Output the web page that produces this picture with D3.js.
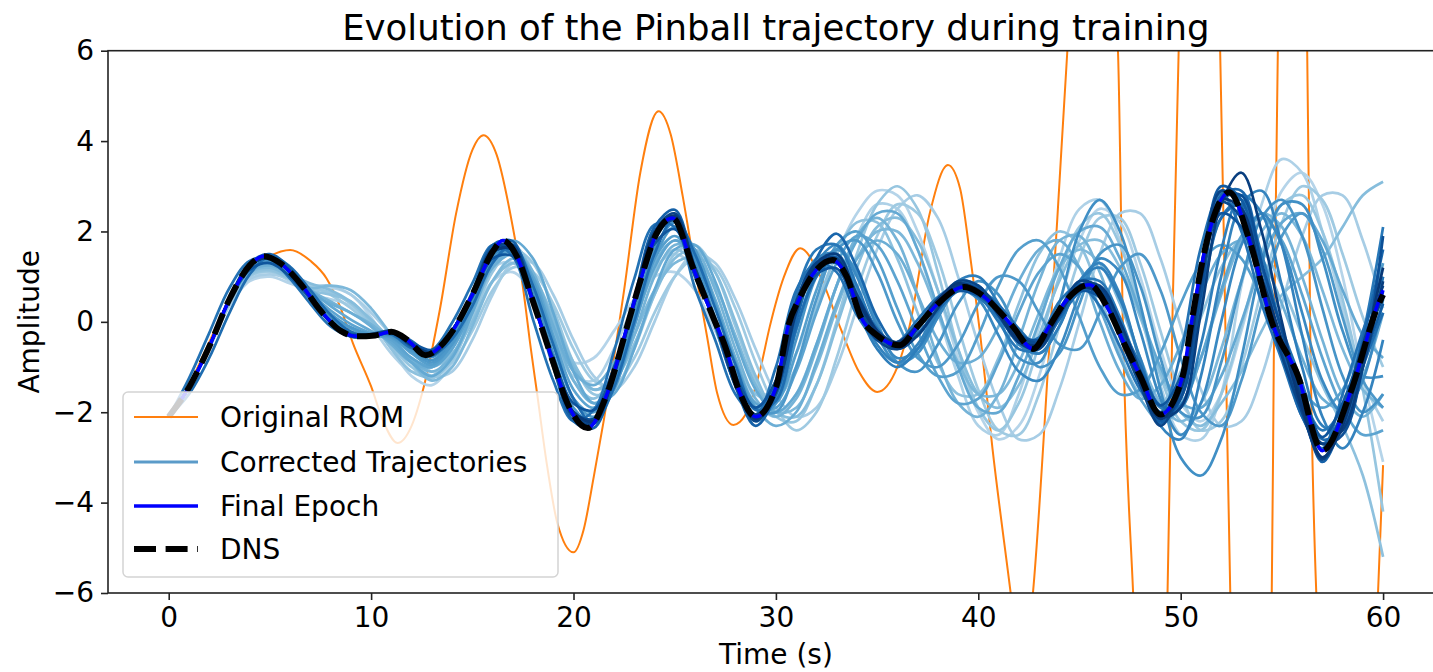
<!DOCTYPE html>
<html><head><meta charset="utf-8">
<script src="https://cdn.jsdelivr.net/npm/d3@7"></script>
<style>body{margin:0;background:#fff}svg{display:block}text{font-family:"DejaVu Sans",sans-serif;fill:#000}</style>
</head><body><svg id="c" width="1433" height="672"></svg>
<script>
const chartTitle = "Evolution of the Pinball trajectory during training";
const xLabel = "Time (s)";
const yLabel = "Amplitude";
const xTicks = [0, 10, 20, 30, 40, 50, 60];
const yTicks = [-6, -4, -2, 0, 2, 4, 6];
const legendLabels = ["Original ROM", "Corrected Trajectories", "Final Epoch", "DNS"];

// DNS reference trajectory (knots)
const dnsT = [0,1,2,3,4,4.7,5.5,6.5,7.5,8.5,9.3,10.2,11,11.8,12.7,13.4,14.1,15,16,16.5,17.2,18,19,19.7,20.7,21.65,22.65,23.3,24.1,24.9,25.9,26.9,27.5,28.2,29,30,30.6,31.2,32,32.8,33.5,34.2,35,36.1,37,38,39.3,40,41,41.7,42.7,43.5,44.3,45.5,46.4,47.2,48,49,50.1,50.5,51.3,52.4,53.4,54.5,55.8,57,58.4,59.7,60];
const dnsV = [-2.1,-1.45,-0.55,0.5,1.25,1.45,1.3,0.85,0.25,-0.2,-0.32,-0.3,-0.22,-0.4,-0.74,-0.55,-0.15,0.6,1.55,1.8,1.45,0.45,-0.9,-1.8,-2.35,-1.6,-0.1,0.9,1.95,2.3,1.2,0.1,-0.55,-1.55,-2.1,-1.45,-0.1,0.55,1.15,1.37,1.0,0.1,-0.3,-0.52,-0.1,0.4,0.77,0.65,0.25,-0.1,-0.6,-0.1,0.45,0.82,0.3,-0.47,-1.2,-2.05,-1.2,-0.1,1.8,2.87,1.8,0.0,-1.2,-2.85,-1.55,0.3,0.6];

// Final epoch (lies on the DNS)
const finalT = [0,1,2,3,4,4.7,5.5,6.5,7.5,8.5,9.3,10.2,11,11.8,12.7,13.4,14.1,15,16,16.5,17.2,18,19,19.7,20.7,21.65,22.65,23.3,24.1,24.9,25.9,26.9,27.5,28.2,29,30,30.6,31.2,32,32.8,33.5,34.2,35,36.1,37,38,39.3,40,41,41.7,42.7,43.5,44.3,45.5,46.4,47.2,48,49,50.1,50.5,51.3,52.4,53.4,54.5,55.8,57,58.4,59.7,60];
const finalV = [-2.1,-1.45,-0.55,0.5,1.25,1.45,1.3,0.85,0.25,-0.2,-0.32,-0.3,-0.22,-0.4,-0.74,-0.55,-0.15,0.6,1.55,1.8,1.45,0.45,-0.9,-1.8,-2.35,-1.6,-0.1,0.9,1.95,2.3,1.2,0.1,-0.55,-1.55,-2.1,-1.45,-0.1,0.55,1.15,1.37,1.0,0.1,-0.3,-0.52,-0.1,0.4,0.77,0.65,0.25,-0.1,-0.6,-0.1,0.45,0.82,0.3,-0.47,-1.2,-2.05,-1.2,-0.1,1.8,2.87,1.8,0.0,-1.2,-2.85,-1.55,0.35,0.7];

// Original ROM (knots; values beyond +-6 are clipped by the axes)
const romT = [0,1,2,3,4,5,6,7,7.8,8.5,9.1,10,10.6,11.3,12,12.6,13.4,14.2,15,15.55,16.2,17,17.5,17.9,18.2,18.7,19.2,20,20.5,21,21.5,22.5,23.3,24.2,24.8,25.4,25.9,26.6,27.1,27.9,28.5,29.2,29.7,30.4,31.2,32.2,33.2,34.1,35,36,36.6,37.6,38.5,39.1,39.6,40.1,40.7,41.6,42.15,42.7,43.5,43.9,44.4,45.65,46.9,47.15,47.65,48.5,49.35,49.6,49.9,50.95,51.95,52.2,52.45,53.5,54.5,54.6,54.8,55.5,56.25,56.4,56.7,58.2,59.75,60];
const romV = [-2.1,-1.4,-0.45,0.5,1.1,1.45,1.59,1.35,0.96,0.3,-0.47,-1.43,-2.2,-2.68,-2.3,-1.44,0.28,2.4,3.8,4.13,3.7,2.1,0.77,-0.62,-1.58,-3.2,-4.45,-5.1,-4.6,-3.43,-2.17,0.7,3.3,4.66,4.15,2.77,1.44,-0.33,-1.58,-2.28,-2.05,-1.1,-0.1,1.0,1.63,1.0,-0.15,-1.1,-1.55,-1.0,-0.1,2.4,3.47,2.95,1.45,-0.3,-2.8,-6.0,-8.0,-6.0,-0.62,2.25,6.0,13,6.0,-0.2,-6.0,-13,-6.0,0.26,6.0,13,6.0,0.1,-6.0,-13,-6.0,-0.84,6.0,13,6.0,-0.18,-6.0,-15,-6.0,-3.17];

// Corrected trajectories during training (t = 0..60 s, 1 s step), earliest epoch first
const trajT = [0,1,2,3,4,5,6,7,8,9,10,11,12,13,14,15,16,17,18,19,20,21,22,23,24,25,26,27,28,29,30,31,32,33,34,35,36,37,38,39,40,41,42,43,44,45,46,47,48,49,50,51,52,53,54,55,56,57,58,59,60];
const corr01 = [-2.1,-1.45,-0.6,0.35,0.9,1.0,0.85,0.7,0.75,0.6,0.1,-0.6,-1.2,-1.4,-0.9,0.1,0.9,1.1,0.6,-0.3,-0.9,-0.8,-0.2,0.5,1.0,1.1,0.7,-0.2,-1.1,-1.6,-1.5,-0.7,0.4,1.5,2.4,2.9,2.8,2.0,0.7,-0.8,-2.0,-2.6,-2.3,-1.2,0.4,1.8,2.5,2.2,1.0,-0.6,-1.8,-2.2,-1.6,-0.2,1.5,2.9,3.3,2.6,1.0,-1.2,-3.1];
const corr02 = [-2.1,-1.45,-0.58,0.4,1.0,1.1,0.9,0.6,0.5,0.35,-0.1,-0.7,-1.1,-1.0,-0.4,0.5,1.2,1.3,0.7,-0.4,-1.2,-1.3,-0.6,0.4,1.2,1.5,1.2,0.3,-0.9,-1.8,-2.1,-1.6,-0.5,0.8,1.9,2.6,2.5,1.6,0.2,-1.2,-2.3,-2.5,-1.6,-0.1,1.4,2.5,2.7,1.8,0.2,-1.4,-2.5,-2.6,-1.6,0.8,2.6,3.6,3.3,2.0,0.3,-1.3,-2.2];
const corr03 = [-2.1,-1.45,-0.58,0.38,0.95,1.05,0.95,0.8,0.8,0.6,0.2,-0.3,-0.85,-1.2,-1.1,-0.4,0.6,1.3,1.3,0.6,-0.4,-1.2,-1.5,-1.0,0.0,1.0,1.5,1.3,0.5,-0.6,-1.6,-2.1,-1.9,-1.0,0.3,1.6,2.5,2.8,2.3,1.0,-0.5,-1.8,-2.6,-2.5,-1.5,0.0,1.5,2.4,2.4,1.4,-0.1,-1.5,-2.3,-2.2,-1.2,0.4,1.9,2.8,2.8,1.8,0.3];
const corr04 = [-2.1,-1.45,-0.57,0.43,1.05,1.15,1.0,0.8,0.6,0.3,-0.1,-0.5,-0.85,-1.1,-0.9,-0.2,0.7,1.2,1.1,0.4,-0.6,-1.3,-1.4,-0.8,0.2,1.0,1.4,1.2,0.3,-0.9,-1.9,-2.4,-2.0,-0.8,0.7,1.9,2.6,2.4,1.4,-0.1,-1.5,-2.4,-2.5,-1.6,-0.1,1.4,2.3,2.3,1.3,-0.2,-1.6,-2.4,-2.2,-1.0,0.7,2.2,3.0,2.7,1.5,0.1,-1.0];
const corr05 = [-2.1,-1.45,-0.57,0.42,1.02,1.12,0.95,0.75,0.65,0.4,-0.05,-0.55,-1.0,-1.25,-0.85,0.1,1.1,1.6,1.3,0.3,-0.9,-1.6,-1.5,-0.6,0.6,1.5,1.7,1.1,-0.1,-1.3,-2.1,-2.2,-1.4,0.0,1.5,2.6,3.0,2.5,1.1,-0.6,-1.9,-2.4,-1.8,-0.5,1.0,2.1,2.4,1.7,0.3,-1.2,-2.2,-2.4,-1.6,-0.1,1.5,2.6,2.8,2.0,0.5,-1.5,-4.2];
const corr06 = [-2.1,-1.45,-0.57,0.42,1.05,1.15,0.95,0.7,0.6,0.45,0.0,-0.6,-1.1,-1.2,-0.6,0.4,1.4,1.7,1.1,-0.2,-1.3,-1.7,-1.1,0.0,1.1,1.6,1.3,0.4,-0.8,-1.6,-1.7,-1.0,0.3,1.5,2.2,2.2,1.4,0.2,-0.9,-1.6,-1.6,-0.8,0.4,1.5,2.0,1.7,0.6,-0.7,-1.6,-1.8,-1.1,0.1,1.2,1.8,1.6,0.8,-0.3,-1.4,-2.3,-3.4,-5.2];
const corr07 = [-2.1,-1.45,-0.56,0.44,1.08,1.2,1.05,0.85,0.7,0.45,0.05,-0.4,-0.8,-1.0,-0.7,0.0,0.9,1.3,1.0,0.1,-0.9,-1.5,-1.3,-0.5,0.6,1.4,1.6,1.1,0.0,-1.2,-2.0,-2.1,-1.4,-0.1,1.2,2.1,2.3,1.8,0.7,-0.6,-1.6,-1.9,-1.4,-0.3,0.9,1.7,1.8,1.2,0.1,-1.1,-2.0,-2.3,-1.8,-1.1,-0.2,0.6,1.0,1.4,2.1,2.8,3.1];
const corr08 = [-2.1,-1.45,-0.56,0.45,1.1,1.2,1.0,0.75,0.8,0.7,0.3,-0.3,-0.9,-1.3,-1.0,-0.1,0.9,1.4,1.0,0.0,-1.0,-1.5,-1.2,-0.3,0.7,1.3,1.4,0.8,-0.3,-1.4,-2.0,-1.9,-1.0,0.3,1.4,2.0,2.0,1.3,0.2,-0.9,-1.6,-1.6,-0.9,0.2,1.2,1.6,1.3,0.4,-0.8,-1.8,-2.2,-1.8,-0.6,0.9,2.0,2.4,1.9,0.7,-0.6,-1.5,-1.9];
const corr09 = [-2.1,-1.45,-0.56,0.46,1.12,1.25,1.05,0.7,0.45,0.2,-0.05,-0.4,-0.85,-1.1,-0.75,0.2,1.2,1.6,1.1,-0.1,-1.3,-1.8,-1.4,-0.3,1.0,1.7,1.6,0.7,-0.6,-1.7,-2.1,-1.7,-0.6,0.8,1.9,2.3,1.8,0.6,-0.8,-1.8,-2.1,-1.6,-0.4,0.9,1.8,1.9,1.1,-0.2,-1.4,-2.0,-1.8,-0.8,0.6,1.8,2.4,2.1,1.0,-0.4,-1.6,-2.1,-1.6];
const corr10 = [-2.1,-1.45,-0.56,0.46,1.12,1.25,1.05,0.65,0.4,0.2,-0.1,-0.5,-0.9,-1.0,-0.5,0.4,1.2,1.5,1.0,-0.1,-1.1,-1.4,-0.9,0.2,1.3,1.8,1.5,0.5,-0.8,-1.9,-2.3,-2.0,-0.9,0.4,1.4,1.8,1.5,0.6,-0.4,-0.9,-0.8,-0.1,0.9,1.6,1.8,1.2,0.0,-1.1,-1.7,-1.4,-0.5,0.6,1.5,1.8,1.4,0.4,-0.8,-1.7,-1.9,-1.2,0.2];
const corr11 = [-2.1,-1.45,-0.56,0.47,1.15,1.3,1.1,0.7,0.35,0.05,-0.2,-0.45,-0.9,-1.2,-0.8,0.2,1.3,1.8,1.4,0.2,-1.1,-1.8,-1.6,-0.6,0.7,1.6,1.7,0.9,-0.4,-1.5,-2.0,-1.6,-0.5,0.8,1.8,2.4,2.4,1.6,0.3,-1.0,-1.9,-2.0,-1.2,0.0,1.2,2.0,2.1,1.4,0.2,-1.0,-1.8,-1.9,-1.2,0.0,1.3,2.2,2.4,1.8,0.7,-0.3,-0.8];
const corr12 = [-2.1,-1.45,-0.55,0.48,1.18,1.33,1.1,0.65,0.25,-0.05,-0.25,-0.4,-0.8,-1.0,-0.6,0.3,1.3,1.6,1.0,-0.3,-1.5,-1.9,-1.3,-0.1,1.2,1.8,1.4,0.4,-0.9,-1.8,-1.9,-1.1,0.2,1.3,1.9,1.7,0.9,-0.2,-1.2,-1.8,-1.7,-0.9,0.2,1.1,1.5,1.2,0.3,-0.8,-1.7,-2.2,-1.9,-0.8,0.7,1.9,2.3,1.8,0.6,-0.8,-1.9,-2.5,-2.4];
const corr13 = [-2.1,-1.45,-0.55,0.49,1.2,1.36,1.1,0.6,0.15,-0.15,-0.3,-0.35,-0.7,-0.95,-0.5,0.4,1.35,1.55,0.8,-0.5,-1.7,-2.0,-1.3,0.1,1.4,1.9,1.3,0.1,-1.1,-1.9,-1.8,-0.7,0.7,1.7,2.0,1.4,0.3,-0.7,-1.2,-1.1,-0.3,0.8,1.6,1.8,1.2,0.1,-1.0,-1.6,-1.5,-0.7,0.4,1.3,1.7,1.4,0.5,-0.6,-1.5,-1.9,-1.5,-0.3,1.3];
const corr14 = [-2.1,-1.45,-0.55,0.49,1.2,1.36,1.1,0.62,0.18,-0.12,-0.28,-0.33,-0.65,-0.9,-0.5,0.4,1.4,1.65,0.9,-0.4,-1.7,-2.1,-1.5,-0.1,1.4,2.1,1.6,0.4,-0.9,-1.9,-2.0,-1.0,0.5,1.6,1.8,1.1,0.0,-0.8,-1.0,-0.5,0.4,1.0,0.9,0.2,-0.5,-0.6,0.2,1.2,1.5,0.7,-0.8,-2.0,-2.3,-1.3,0.4,1.9,2.4,1.6,0.1,-1.3,-1.9];
const corr15 = [-2.1,-1.45,-0.55,0.5,1.22,1.38,1.1,0.58,0.08,-0.22,-0.3,-0.3,-0.6,-0.85,-0.4,0.5,1.45,1.6,0.7,-0.7,-1.9,-2.2,-1.4,0.1,1.6,2.2,1.4,0.0,-1.3,-2.1,-1.8,-0.4,1.0,1.6,1.1,0.0,-0.9,-1.1,-0.5,0.4,0.9,0.6,-0.3,-1.0,-0.7,0.4,1.5,1.7,0.8,-0.8,-2.0,-2.1,-0.9,0.9,2.3,2.7,1.9,0.3,-1.2,-2.0,-1.6];
const corr16 = [-2.1,-1.45,-0.55,0.5,1.24,1.4,1.1,0.56,0.05,-0.26,-0.31,-0.25,-0.55,-0.78,-0.3,0.55,1.5,1.65,0.6,-0.8,-2.0,-2.25,-1.3,0.3,1.8,2.3,1.3,-0.1,-1.4,-2.2,-1.7,-0.2,1.1,1.5,0.7,-0.3,-0.9,-0.7,0.1,0.8,0.8,0.1,-0.8,-0.9,0.4,2.0,2.7,2.0,0.4,-1.5,-3.0,-3.4,-2.6,-0.8,1.3,2.6,2.6,1.4,-0.2,-1.2,-1.2];
const corr17 = [-2.1,-1.45,-0.55,0.5,1.25,1.41,1.1,0.55,0.02,-0.28,-0.3,-0.22,-0.52,-0.72,-0.25,0.6,1.5,1.55,0.5,-0.9,-2.0,-2.2,-1.2,0.4,1.9,2.3,1.2,-0.1,-1.4,-2.15,-1.6,0.1,1.3,1.7,1.0,-0.1,-0.8,-0.6,0.1,0.7,0.5,-0.3,-1.1,-1.3,-0.6,0.6,1.4,1.1,-0.2,-1.7,-2.5,-1.8,0.0,1.7,2.4,1.7,0.2,-1.3,-2.0,-1.3,0.5];
const corr18 = [-2.1,-1.45,-0.55,0.5,1.25,1.42,1.1,0.55,0.0,-0.3,-0.3,-0.22,-0.5,-0.7,-0.2,0.6,1.55,1.65,0.5,-0.9,-2.05,-2.2,-1.1,0.5,1.95,2.3,1.1,0.0,-1.35,-2.1,-1.4,0.4,1.4,1.5,0.5,-0.5,-0.9,-0.5,0.3,0.9,0.8,0.2,-0.5,-0.7,-0.1,0.9,1.3,0.6,-0.9,-2.3,-2.6,-1.2,1.0,2.6,2.9,1.7,-0.3,-2.1,-2.8,-2.0,-0.4];
const corr19 = [-2.1,-1.45,-0.55,0.5,1.25,1.42,1.1,0.55,0.0,-0.3,-0.31,-0.22,-0.5,-0.72,-0.2,0.62,1.56,1.6,0.45,-0.92,-2.05,-2.2,-1.1,0.45,1.9,2.3,1.1,-0.05,-1.35,-2.1,-1.5,0.3,1.2,1.3,0.3,-0.6,-1.0,-0.6,0.2,0.9,1.0,0.4,-0.4,-0.7,-0.1,0.9,1.2,0.5,-0.8,-1.9,-1.9,-0.5,1.6,2.8,2.4,0.8,-1.0,-2.3,-2.4,-1.0,1.0];
const corr20 = [-2.1,-1.45,-0.55,0.5,1.25,1.42,1.1,0.55,0.0,-0.3,-0.3,-0.22,-0.5,-0.7,-0.2,0.6,1.55,1.6,0.45,-0.9,-2.0,-2.15,-1.1,0.45,1.9,2.25,1.1,0.0,-1.3,-2.05,-1.3,0.6,1.6,1.7,0.8,-0.2,-0.6,-0.3,0.3,0.8,0.6,0.0,-0.6,-0.6,0.1,0.9,0.9,0.1,-1.1,-2.0,-1.6,0.4,2.3,2.7,1.5,-0.2,-1.6,-2.4,-1.9,-0.3,2.1];
const corr21 = [-2.1,-1.25,-0.25,0.75,1.35,1.38,0.95,0.4,-0.1,-0.32,-0.28,-0.28,-0.58,-0.62,-0.02,0.85,1.7,1.45,0.05,-1.3,-2.2,-1.95,-0.65,0.95,2.15,2.1,0.75,-0.4,-1.6,-2.05,-1.0,0.7,1.3,1.1,0.15,-0.4,-0.45,0.05,0.55,0.78,0.55,0.1,-0.4,-0.35,0.45,0.8,0.35,-0.55,-1.5,-2.0,-0.7,1.65,2.85,2.0,0.4,-0.85,-2.1,-2.8,-1.6,-0.2,1.0];
const corr22 = [-2.1,-1.6,-0.8,0.2,1.05,1.45,1.22,0.7,0.15,-0.22,-0.32,-0.2,-0.42,-0.72,-0.38,0.35,1.3,1.7,0.8,-0.5,-1.7,-2.25,-1.45,0.0,1.5,2.3,1.5,0.3,-0.95,-1.95,-1.75,-0.15,1.0,1.38,0.6,-0.15,-0.52,-0.25,0.25,0.68,0.72,0.38,-0.15,-0.55,0.05,0.65,0.72,-0.05,-0.95,-1.85,-1.85,0.4,2.3,2.6,1.2,-0.15,-1.35,-2.6,-2.35,-1.0,0.2];
const corr23 = [-2.1,-1.45,-0.55,0.5,1.25,1.42,1.1,0.55,0.0,-0.3,-0.3,-0.22,-0.5,-0.69,-0.2,0.6,1.55,1.62,0.47,-0.9,-2.0,-2.18,-1.15,0.4,1.9,2.3,1.15,0.0,-1.3,-2.1,-1.6,0.0,1.4,1.95,1.2,0.1,-0.5,-0.3,0.3,0.8,0.7,0.2,-0.4,-0.5,0.1,0.7,0.7,-0.1,-1.2,-2.0,-1.5,0.8,2.8,2.9,1.3,-0.6,-2.1,-2.7,-2.0,-0.4,1.6];
const corr24 = [-2.1,-1.45,-0.55,0.52,1.3,1.5,1.18,0.6,0.0,-0.33,-0.33,-0.25,-0.55,-0.75,-0.22,0.66,1.7,1.78,0.5,-1.0,-2.2,-2.35,-1.2,0.5,2.1,2.48,1.2,0.0,-1.43,-2.3,-1.6,0.38,1.27,1.43,0.38,-0.33,-0.55,-0.1,0.44,0.83,0.72,0.28,-0.33,-0.5,0.28,0.83,0.66,-0.33,-1.32,-2.25,-1.5,1.2,2.9,2.55,0.9,-0.55,-1.9,-3.1,-2.2,-0.66,0.66];
const corr25 = [-2.1,-1.45,-0.55,0.5,1.25,1.42,1.1,0.55,0.0,-0.3,-0.3,-0.22,-0.5,-0.68,-0.2,0.6,1.55,1.6,0.45,-0.9,-2.0,-2.15,-1.1,0.45,1.9,2.25,1.1,0.0,-1.3,-2.15,-1.55,0.2,1.25,1.4,0.45,-0.3,-0.55,-0.15,0.4,0.85,0.75,0.3,-0.3,-0.5,0.2,0.8,0.7,-0.2,-1.3,-2.2,-1.7,0.9,3.0,2.7,0.9,-0.7,-2.0,-3.0,-2.3,-0.9,0.4];
const corr26 = [-2.1,-1.45,-0.55,0.47,1.15,1.3,1.0,0.5,0.0,-0.27,-0.27,-0.2,-0.45,-0.62,-0.18,0.55,1.4,1.45,0.4,-0.8,-1.8,-1.95,-1.0,0.4,1.72,2.05,1.0,0.0,-1.18,-1.9,-1.3,0.32,1.05,1.18,0.32,-0.27,-0.45,-0.09,0.36,0.68,0.58,0.22,-0.27,-0.4,0.22,0.68,0.54,-0.27,-1.08,-1.85,-1.2,1.0,2.4,2.1,0.72,-0.45,-1.55,-2.55,-1.8,-0.55,0.55];
const corr27 = [-2.1,-1.45,-0.55,0.5,1.25,1.43,1.12,0.56,0.0,-0.3,-0.3,-0.22,-0.5,-0.7,-0.2,0.62,1.6,1.65,0.48,-0.9,-2.05,-2.2,-1.12,0.45,1.95,2.3,1.15,0.02,-1.3,-2.15,-1.5,0.3,1.2,1.38,0.45,-0.25,-0.5,-0.12,0.42,0.8,0.72,0.3,-0.3,-0.52,0.15,0.8,0.75,-0.1,-1.15,-2.1,-1.7,0.6,2.7,2.8,1.3,-0.2,-1.6,-2.7,-2.5,-1.0,1.9];
const corr28 = [-2.1,-1.45,-0.55,0.5,1.25,1.42,1.1,0.55,0.0,-0.3,-0.3,-0.22,-0.5,-0.68,-0.2,0.6,1.55,1.6,0.45,-0.9,-2.0,-2.15,-1.1,0.45,1.9,2.25,1.1,0.0,-1.3,-2.1,-1.45,0.35,1.15,1.3,0.35,-0.3,-0.5,-0.1,0.4,0.75,0.65,0.25,-0.3,-0.45,0.25,0.75,0.6,-0.3,-1.2,-2.05,-1.35,1.1,2.65,2.3,0.8,-0.5,-1.7,-2.85,-2.0,-0.6,0.6];
const corr29 = [-2.1,-1.45,-0.55,0.5,1.26,1.44,1.12,0.55,-0.02,-0.32,-0.32,-0.24,-0.52,-0.72,-0.22,0.62,1.62,1.7,0.5,-0.95,-2.1,-2.25,-1.15,0.48,2.0,2.4,1.15,-0.05,-1.4,-2.2,-1.5,0.45,1.3,1.4,0.3,-0.4,-0.6,-0.15,0.45,0.9,0.8,0.25,-0.45,-0.6,0.2,0.9,0.75,-0.35,-1.4,-2.3,-1.5,1.2,2.9,2.5,0.7,-0.75,-2.0,-3.05,-2.1,-0.5,0.8];
const corr30 = [-2.1,-1.45,-0.55,0.5,1.25,1.42,1.1,0.55,0.0,-0.3,-0.3,-0.22,-0.5,-0.7,-0.2,0.6,1.55,1.62,0.5,-0.88,-2.0,-2.2,-1.15,0.4,1.85,2.3,1.2,0.05,-1.25,-2.05,-1.5,0.2,1.3,1.5,0.6,-0.2,-0.6,-0.3,0.3,0.8,0.7,0.15,-0.45,-0.55,0.15,0.8,0.8,0.0,-1.1,-2.1,-1.9,0.2,2.6,3.3,2.0,0.0,-1.8,-2.7,-2.4,-1.0,0.9];
const corr31 = [-2.1,-1.45,-0.55,0.5,1.25,1.42,1.1,0.55,0.0,-0.3,-0.3,-0.22,-0.5,-0.68,-0.2,0.6,1.55,1.6,0.45,-0.9,-2.0,-2.2,-1.15,0.45,1.95,2.35,1.15,0.0,-1.3,-2.15,-1.55,0.25,1.2,1.35,0.5,-0.2,-0.45,-0.05,0.5,0.85,0.7,0.2,-0.4,-0.5,0.2,0.75,0.65,-0.3,-1.3,-2.15,-1.5,0.9,2.7,2.5,1.0,-0.4,-1.9,-3.0,-2.3,-0.7,1.2];
const corrected = [corr01,corr02,corr03,corr04,corr05,corr06,corr07,corr08,corr09,corr10,corr11,corr12,corr13,corr14,corr15,corr16,corr17,corr18,corr19,corr20,corr21,corr22,corr23,corr24,corr25,corr26,corr27,corr28,corr29,corr30,corr31];

// ---------- drawing ----------
const plot = {left: 108, top: 50.7, right: 1443.8, bottom: 593};
const svg = d3.select("#c");
const x = d3.scaleLinear().domain([-3, 63]).range([plot.left, plot.right]);
const y = d3.scaleLinear().domain([-6, 6]).range([plot.bottom, plot.top]);

svg.append("defs").append("clipPath").attr("id", "clip")
  .append("rect").attr("x", plot.left).attr("y", plot.top)
  .attr("width", plot.right - plot.left).attr("height", plot.bottom - plot.top);

const g = svg.append("g").attr("clip-path", "url(#clip)");
const smooth = d3.line().x(d => x(d[0])).y(d => y(d[1])).curve(d3.curveCatmullRom.alpha(0.5));
const mono = d3.line().x(d => x(d[0])).y(d => y(d[1])).curve(d3.curveMonotoneX);

const romColor = "#ff7f0e", finalColor = "#0000ff", legendCorrColor = "#5b9bc9";

g.append("path").datum(d3.zip(romT, romV)).attr("d", mono)
  .attr("fill", "none").attr("stroke", romColor).attr("stroke-width", 2);

const n = corrected.length;
corrected.forEach((vals, i) => {
  g.append("path").datum(d3.zip(trajT, vals)).attr("d", smooth)
    .attr("fill", "none")
    .attr("stroke", d3.interpolateBlues(0.3 + 0.67 * i / (n - 1)))
    .attr("stroke-width", 2.7).attr("stroke-linejoin", "round");
});

g.append("path").datum(d3.zip(finalT, finalV)).attr("d", mono)
  .attr("fill", "none").attr("stroke", finalColor).attr("stroke-width", 3.5);

g.append("path").datum(d3.zip(dnsT, dnsV)).attr("d", mono)
  .attr("fill", "none").attr("stroke", "#000").attr("stroke-width", 6)
  .attr("stroke-dasharray", "22,9.6");

// axes
const fs = 28;
const xa = svg.append("g").attr("transform", `translate(0,${plot.bottom})`)
  .call(d3.axisBottom(x).tickValues(xTicks).tickSize(7).tickPadding(7).tickSizeOuter(0));
const ya = svg.append("g").attr("transform", `translate(${plot.left},0)`)
  .call(d3.axisLeft(y).tickValues(yTicks).tickSize(7).tickPadding(7).tickSizeOuter(0));
[xa, ya].forEach(a => {
  a.select(".domain").remove();
  a.selectAll(".tick line").attr("stroke", "#222").attr("stroke-width", 1.6);
  a.selectAll(".tick text").attr("font-size", fs).attr("font-family", "DejaVu Sans").attr("fill", "#111");
});

svg.append("rect").attr("x", plot.left).attr("y", plot.top)
  .attr("width", plot.right - plot.left).attr("height", plot.bottom - plot.top)
  .attr("fill", "none").attr("stroke", "#222").attr("stroke-width", 1.6);

svg.append("text").attr("x", (plot.left + plot.right) / 2).attr("y", 40)
  .attr("text-anchor", "middle").attr("font-size", 35.5).text(chartTitle);
svg.append("text").attr("x", (plot.left + plot.right) / 2).attr("y", 664)
  .attr("text-anchor", "middle").attr("font-size", fs).text(xLabel);
svg.append("text").attr("transform", `translate(39,${(plot.top + plot.bottom) / 2}) rotate(-90)`)
  .attr("text-anchor", "middle").attr("font-size", fs).text(yLabel);

// legend
const lg = svg.append("g");
lg.append("rect").attr("x", 123).attr("y", 392).attr("width", 435).attr("height", 185)
  .attr("rx", 5).attr("fill", "#fff").attr("fill-opacity", 0.8)
  .attr("stroke", "#d4d4d4").attr("stroke-width", 1.5);
const rows = [417, 462, 506, 549];
const handles = [
  {stroke: romColor, w: 2, dash: null},
  {stroke: legendCorrColor, w: 3, dash: null},
  {stroke: finalColor, w: 3.5, dash: null},
  {stroke: "#000", w: 6, dash: "22,9.6"}
];
legendLabels.forEach((lab, i) => {
  const h = handles[i];
  const ln = lg.append("line").attr("x1", 134).attr("x2", 198).attr("y1", rows[i]).attr("y2", rows[i])
    .attr("stroke", h.stroke).attr("stroke-width", h.w);
  if (h.dash) ln.attr("stroke-dasharray", h.dash);
  lg.append("text").attr("x", 220).attr("y", rows[i] + 10).attr("font-size", fs).text(lab);
});
</script>
</body></html>
